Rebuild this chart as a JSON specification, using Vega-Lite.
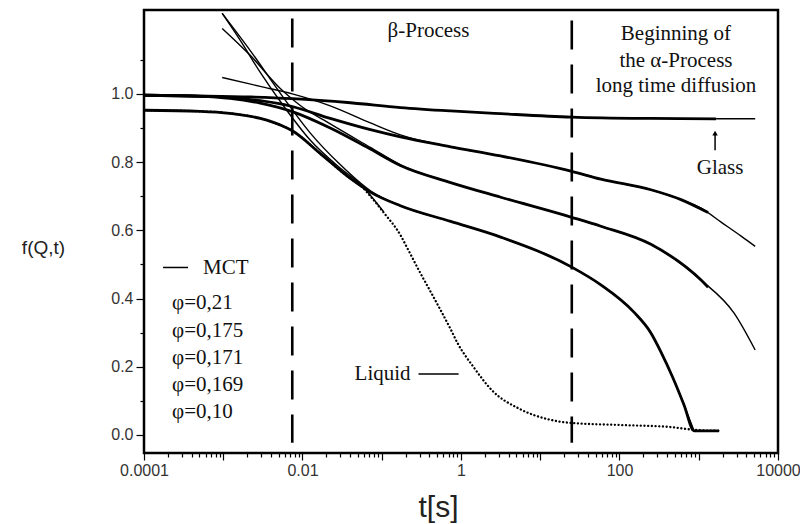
{
  "$schema": "https://vega.github.io/schema/vega-lite/v6.json",
  "width": 634,
  "height": 443,
  "autosize": {"type": "none"},
  "padding": {"left": 144, "top": 10, "right": 22, "bottom": 71},
  "background": "white",
  "config": {"view": {"stroke": "black", "strokeWidth": 2.5}},
  "datasets": {
    "curves": [
      {"series": "glass", "kind": "data", "t": 0.0001, "f": 0.996},
      {"series": "glass", "kind": "data", "t": 0.00051, "f": 0.994},
      {"series": "glass", "kind": "data", "t": 0.00219, "f": 0.991},
      {"series": "glass", "kind": "data", "t": 0.00743, "f": 0.986},
      {"series": "glass", "kind": "data", "t": 0.0402, "f": 0.974},
      {"series": "glass", "kind": "data", "t": 0.172, "f": 0.960},
      {"series": "glass", "kind": "data", "t": 0.74, "f": 0.950},
      {"series": "glass", "kind": "data", "t": 3.17, "f": 0.942},
      {"series": "glass", "kind": "data", "t": 25, "f": 0.932},
      {"series": "glass", "kind": "data", "t": 249, "f": 0.928},
      {"series": "glass", "kind": "data", "t": 1656, "f": 0.927},
      {"series": "glass", "kind": "fit", "t": 1656, "f": 0.927},
      {"series": "glass", "kind": "fit", "t": 5150, "f": 0.927},

      {"series": "B", "kind": "data", "t": 0.0001, "f": 0.996},
      {"series": "B", "kind": "data", "t": 0.00051, "f": 0.993},
      {"series": "B", "kind": "data", "t": 0.00122, "f": 0.989},
      {"series": "B", "kind": "data", "t": 0.00293, "f": 0.980},
      {"series": "B", "kind": "data", "t": 0.00743, "f": 0.963},
      {"series": "B", "kind": "data", "t": 0.0224, "f": 0.928},
      {"series": "B", "kind": "data", "t": 0.0719, "f": 0.895},
      {"series": "B", "kind": "data", "t": 0.172, "f": 0.874},
      {"series": "B", "kind": "data", "t": 0.74, "f": 0.845},
      {"series": "B", "kind": "data", "t": 3.17, "f": 0.818},
      {"series": "B", "kind": "data", "t": 25, "f": 0.773},
      {"series": "B", "kind": "data", "t": 58.2, "f": 0.750},
      {"series": "B", "kind": "data", "t": 249, "f": 0.719},
      {"series": "B", "kind": "data", "t": 597, "f": 0.690},
      {"series": "B", "kind": "data", "t": 1312, "f": 0.652},
      {"series": "B", "kind": "fit", "t": 0.00097, "f": 1.048},
      {"series": "B", "kind": "fit", "t": 0.00293, "f": 1.022},
      {"series": "B", "kind": "fit", "t": 0.00743, "f": 1.000},
      {"series": "B", "kind": "fit", "t": 0.0224, "f": 0.965},
      {"series": "B", "kind": "fit", "t": 0.0719, "f": 0.915},
      {"series": "B", "kind": "fit", "t": 0.172, "f": 0.880},
      {"series": "B", "kind": "fit", "t": 0.74, "f": 0.845},
      {"series": "B", "kind": "fit", "t": 3.17, "f": 0.818},
      {"series": "B", "kind": "fit", "t": 25, "f": 0.773},
      {"series": "B", "kind": "fit", "t": 58.2, "f": 0.750},
      {"series": "B", "kind": "fit", "t": 249, "f": 0.719},
      {"series": "B", "kind": "fit", "t": 597, "f": 0.690},
      {"series": "B", "kind": "fit", "t": 1069, "f": 0.665},
      {"series": "B", "kind": "fit", "t": 1914, "f": 0.624},
      {"series": "B", "kind": "fit", "t": 3427, "f": 0.583},
      {"series": "B", "kind": "fit", "t": 5150, "f": 0.553},

      {"series": "C", "kind": "data", "t": 0.0001, "f": 0.996},
      {"series": "C", "kind": "data", "t": 0.00051, "f": 0.993},
      {"series": "C", "kind": "data", "t": 0.00122, "f": 0.987},
      {"series": "C", "kind": "data", "t": 0.00293, "f": 0.973},
      {"series": "C", "kind": "data", "t": 0.00743, "f": 0.948},
      {"series": "C", "kind": "data", "t": 0.0224, "f": 0.900},
      {"series": "C", "kind": "data", "t": 0.0719, "f": 0.838},
      {"series": "C", "kind": "data", "t": 0.172, "f": 0.790},
      {"series": "C", "kind": "data", "t": 0.74, "f": 0.740},
      {"series": "C", "kind": "data", "t": 3.17, "f": 0.697},
      {"series": "C", "kind": "data", "t": 25, "f": 0.638},
      {"series": "C", "kind": "data", "t": 58.2, "f": 0.612},
      {"series": "C", "kind": "data", "t": 249, "f": 0.559},
      {"series": "C", "kind": "data", "t": 1069, "f": 0.454},
      {"series": "C", "kind": "data", "t": 1312, "f": 0.433},
      {"series": "C", "kind": "fit", "t": 0.00097, "f": 1.192},
      {"series": "C", "kind": "fit", "t": 0.00219, "f": 1.113},
      {"series": "C", "kind": "fit", "t": 0.00524, "f": 1.016},
      {"series": "C", "kind": "fit", "t": 0.00937, "f": 0.966},
      {"series": "C", "kind": "fit", "t": 0.0224, "f": 0.912},
      {"series": "C", "kind": "fit", "t": 0.0719, "f": 0.843},
      {"series": "C", "kind": "fit", "t": 0.172, "f": 0.792},
      {"series": "C", "kind": "fit", "t": 0.74, "f": 0.740},
      {"series": "C", "kind": "fit", "t": 3.17, "f": 0.697},
      {"series": "C", "kind": "fit", "t": 25, "f": 0.638},
      {"series": "C", "kind": "fit", "t": 58.2, "f": 0.612},
      {"series": "C", "kind": "fit", "t": 249, "f": 0.559},
      {"series": "C", "kind": "fit", "t": 1069, "f": 0.454},
      {"series": "C", "kind": "fit", "t": 2793, "f": 0.357},
      {"series": "C", "kind": "fit", "t": 5150, "f": 0.249},

      {"series": "D", "kind": "data", "t": 0.0001, "f": 0.952},
      {"series": "D", "kind": "data", "t": 0.00051, "f": 0.949},
      {"series": "D", "kind": "data", "t": 0.00122, "f": 0.943},
      {"series": "D", "kind": "data", "t": 0.00293, "f": 0.928},
      {"series": "D", "kind": "data", "t": 0.00571, "f": 0.905},
      {"series": "D", "kind": "data", "t": 0.00743, "f": 0.892},
      {"series": "D", "kind": "data", "t": 0.0168, "f": 0.825},
      {"series": "D", "kind": "data", "t": 0.0402, "f": 0.752},
      {"series": "D", "kind": "data", "t": 0.0719, "f": 0.712},
      {"series": "D", "kind": "data", "t": 0.172, "f": 0.672},
      {"series": "D", "kind": "data", "t": 0.74, "f": 0.626},
      {"series": "D", "kind": "data", "t": 3.17, "f": 0.580},
      {"series": "D", "kind": "data", "t": 25, "f": 0.492},
      {"series": "D", "kind": "data", "t": 58.2, "f": 0.440},
      {"series": "D", "kind": "data", "t": 152, "f": 0.360},
      {"series": "D", "kind": "data", "t": 249, "f": 0.299},
      {"series": "D", "kind": "data", "t": 334, "f": 0.243},
      {"series": "D", "kind": "data", "t": 473, "f": 0.167},
      {"series": "D", "kind": "data", "t": 652, "f": 0.088},
      {"series": "D", "kind": "data", "t": 873, "f": 0.012},
      {"series": "D", "kind": "data", "t": 1312, "f": 0.012},
      {"series": "D", "kind": "data", "t": 1807, "f": 0.012},
      {"series": "D", "kind": "fit", "t": 0.00097, "f": 1.236},
      {"series": "D", "kind": "fit", "t": 0.00219, "f": 1.127},
      {"series": "D", "kind": "fit", "t": 0.00571, "f": 0.990},
      {"series": "D", "kind": "fit", "t": 0.01256, "f": 0.885},
      {"series": "D", "kind": "fit", "t": 0.0301, "f": 0.792},
      {"series": "D", "kind": "fit", "t": 0.0719, "f": 0.716},
      {"series": "D", "kind": "fit", "t": 0.172, "f": 0.672},
      {"series": "D", "kind": "fit", "t": 0.74, "f": 0.626},
      {"series": "D", "kind": "fit", "t": 3.17, "f": 0.580},
      {"series": "D", "kind": "fit", "t": 25, "f": 0.492},
      {"series": "D", "kind": "fit", "t": 58.2, "f": 0.440},
      {"series": "D", "kind": "fit", "t": 152, "f": 0.360},
      {"series": "D", "kind": "fit", "t": 249, "f": 0.299},
      {"series": "D", "kind": "fit", "t": 334, "f": 0.243},
      {"series": "D", "kind": "fit", "t": 473, "f": 0.167},
      {"series": "D", "kind": "fit", "t": 652, "f": 0.088},
      {"series": "D", "kind": "fit", "t": 873, "f": 0.012},

      {"series": "L", "kind": "fit", "t": 0.00097, "f": 1.236},
      {"series": "L", "kind": "fit", "t": 0.00164, "f": 1.157},
      {"series": "L", "kind": "fit", "t": 0.00293, "f": 1.063},
      {"series": "L", "kind": "fit", "t": 0.00571, "f": 0.966},
      {"series": "L", "kind": "fit", "t": 0.01256, "f": 0.864},
      {"series": "L", "kind": "fit", "t": 0.0301, "f": 0.782},
      {"series": "L", "kind": "fit", "t": 0.0538, "f": 0.735},
      {"series": "L", "kind": "fit", "t": 0.105, "f": 0.655},

      {"series": "L", "kind": "dots", "t": 0.0001, "f": 0.952},
      {"series": "L", "kind": "dots", "t": 0.00051, "f": 0.949},
      {"series": "L", "kind": "dots", "t": 0.00122, "f": 0.943},
      {"series": "L", "kind": "dots", "t": 0.00293, "f": 0.928},
      {"series": "L", "kind": "dots", "t": 0.00571, "f": 0.905},
      {"series": "L", "kind": "dots", "t": 0.00743, "f": 0.892},
      {"series": "L", "kind": "dots", "t": 0.0168, "f": 0.825},
      {"series": "L", "kind": "dots", "t": 0.0402, "f": 0.752},
      {"series": "L", "kind": "dots", "t": 0.0538, "f": 0.732},
      {"series": "L", "kind": "dots", "t": 0.0719, "f": 0.700},
      {"series": "L", "kind": "dots", "t": 0.105, "f": 0.653},
      {"series": "L", "kind": "dots", "t": 0.172, "f": 0.586},
      {"series": "L", "kind": "dots", "t": 0.211, "f": 0.547},
      {"series": "L", "kind": "dots", "t": 0.308, "f": 0.474},
      {"series": "L", "kind": "dots", "t": 0.451, "f": 0.404},
      {"series": "L", "kind": "dots", "t": 0.74, "f": 0.310},
      {"series": "L", "kind": "dots", "t": 0.906, "f": 0.269},
      {"series": "L", "kind": "dots", "t": 1.44, "f": 0.199},
      {"series": "L", "kind": "dots", "t": 2.58, "f": 0.126},
      {"series": "L", "kind": "dots", "t": 5.2, "f": 0.079},
      {"series": "L", "kind": "dots", "t": 13.6, "f": 0.044},
      {"series": "L", "kind": "dots", "t": 25, "f": 0.035},
      {"series": "L", "kind": "dots", "t": 104, "f": 0.029},
      {"series": "L", "kind": "dots", "t": 447, "f": 0.023},
      {"series": "L", "kind": "dots", "t": 873, "f": 0.015},
      {"series": "L", "kind": "dots", "t": 1807, "f": 0.012}
    ],
    "vlines": [
      {"t": 0.00743, "f": 1.221, "f2": -0.023},
      {"t": 25, "f": 1.215, "f2": -0.023}
    ],
    "segs": [
      {"t": 0.000174, "t2": 0.00036, "f": 0.491},
      {"t": 0.291, "t2": 0.933, "f": 0.179}
    ],
    "arrow": [
      {"t": 1607, "f": 0.835, "f2": 0.882}
    ],
    "arrowhead": [
      {"t": 1607, "f": 0.885}
    ],
    "labelsLeft": [
      {"t": 0.000557, "f": 0.490, "text": "MCT"},
      {"t": 0.000226, "f": 0.388, "text": "φ=0,21"},
      {"t": 0.000226, "f": 0.306, "text": "φ=0,175"},
      {"t": 0.000226, "f": 0.227, "text": "φ=0,171"},
      {"t": 0.000226, "f": 0.146, "text": "φ=0,169"},
      {"t": 0.000226, "f": 0.067, "text": "φ=0,10"}
    ],
    "labelsCenter": [
      {"t": 0.389, "f": 1.183, "text": "β-Process"},
      {"t": 516, "f": 1.177, "text": "Beginning of"},
      {"t": 516, "f": 1.095, "text": "the α-Process"},
      {"t": 516, "f": 1.022, "text": "long time diffusion"},
      {"t": 1858, "f": 0.782, "text": "Glass"}
    ],
    "labelsRight": [
      {"t": 0.231, "f": 0.179, "text": "Liquid"}
    ]
  },
  "encoding": {
    "x": {
      "field": "t",
      "type": "quantitative",
      "scale": {"type": "log", "domain": [0.0001, 10000], "nice": false},
      "axis": {
        "title": "t[s]",
        "values": [0.0001,0.0002,0.0003,0.0004,0.0005,0.0006,0.0007,0.0008,0.0009,0.001,0.002,0.003,0.004,0.005,0.006,0.007,0.008,0.009,0.01,0.02,0.03,0.04,0.05,0.06,0.07,0.08,0.09,0.1,0.2,0.3,0.4,0.5,0.6,0.7,0.8,0.9,1,2,3,4,5,6,7,8,9,10,20,30,40,50,60,70,80,90,100,200,300,400,500,600,700,800,900,1000,2000,3000,4000,5000,6000,7000,8000,9000,10000],
        "labelExpr": "datum.value == 0.0001 ? '0.0001' : datum.value == 0.01 ? '0.01' : datum.value == 1 ? '1' : datum.value == 100 ? '100' : datum.value == 10000 ? '10000' : ''",
        "domain": false,
        "grid": false,
        "tickColor": "black",
        "tickWidth": 1.2,
        "tickSize": {"condition": {"test": "indexof([0.0001,0.001,0.01,0.1,1,10,100,1000,10000], datum.value) >= 0", "value": 7}, "value": 4},
        "labelFont": "Liberation Sans",
        "labelFontSize": 16,
        "labelColor": "#333",
        "labelPadding": 2,
        "labelFlush": false,
        "labelOverlap": false,
        "labelBound": false,
        "titleFont": "Liberation Sans",
        "titleFontSize": 30,
        "titleFontWeight": "normal",
        "titleColor": "#222",
        "titleX": 294,
        "titleY": 54,
        "titleAlign": "center",
        "titleBaseline": "middle"
      }
    },
    "y": {
      "field": "f",
      "type": "quantitative",
      "scale": {"domain": [-0.053, 1.246], "nice": false, "zero": false},
      "axis": {
        "title": "f(Q,t)",
        "values": [0, 0.1, 0.2, 0.3, 0.4, 0.5, 0.6, 0.7, 0.8, 0.9, 1.0, 1.1],
        "labelExpr": "round(datum.value * 10) % 2 == 0 ? format(datum.value, '.1f') : ''",
        "domain": false,
        "grid": false,
        "tickColor": "black",
        "tickWidth": 1.2,
        "tickSize": {"condition": {"test": "round(datum.value * 10) % 2 == 0", "value": 8}, "value": 4},
        "labelFont": "Liberation Sans",
        "labelFontSize": 16,
        "labelColor": "#333",
        "labelPadding": 3,
        "labelOverlap": false,
        "labelFlush": false,
        "titleFont": "Liberation Sans",
        "titleFontSize": 19,
        "titleFontWeight": "normal",
        "titleColor": "#222",
        "titleAngle": 0,
        "titleX": -101,
        "titleY": 237,
        "titleAlign": "center",
        "titleBaseline": "middle"
      }
    }
  },
  "layer": [
    {
      "data": {"name": "curves"},
      "transform": [{"filter": "datum.kind == 'fit'"}],
      "mark": {"type": "line", "color": "black", "strokeWidth": 1.4, "interpolate": "monotone"},
      "encoding": {"detail": {"field": "series"}}
    },
    {
      "data": {"name": "curves"},
      "transform": [{"filter": "datum.kind == 'dots'"}],
      "mark": {"type": "line", "color": "black", "strokeWidth": 2.3, "strokeDash": [0.1, 3.6], "strokeCap": "round", "interpolate": "monotone"},
      "encoding": {"detail": {"field": "series"}}
    },
    {
      "data": {"name": "curves"},
      "transform": [{"filter": "datum.kind == 'data'"}],
      "mark": {"type": "line", "color": "black", "strokeWidth": 2.8, "interpolate": "monotone"},
      "encoding": {"detail": {"field": "series"}}
    },
    {
      "data": {"name": "vlines"},
      "mark": {"type": "rule", "color": "black", "strokeWidth": 2.6, "strokeDash": [29, 15]},
      "encoding": {"y2": {"field": "f2"}}
    },
    {
      "data": {"name": "segs"},
      "mark": {"type": "rule", "color": "black", "strokeWidth": 1.5},
      "encoding": {"x2": {"field": "t2"}}
    },
    {
      "data": {"name": "arrow"},
      "mark": {"type": "rule", "color": "black", "strokeWidth": 1.5},
      "encoding": {"y2": {"field": "f2"}}
    },
    {
      "data": {"name": "arrowhead"},
      "mark": {"type": "point", "shape": "triangle-up", "filled": true, "color": "black", "size": 30, "opacity": 1}
    },
    {
      "data": {"name": "labelsLeft"},
      "mark": {"type": "text", "align": "left", "baseline": "middle", "font": "Liberation Serif", "fontSize": 21, "color": "#111"},
      "encoding": {"text": {"field": "text"}}
    },
    {
      "data": {"name": "labelsCenter"},
      "mark": {"type": "text", "align": "center", "baseline": "middle", "font": "Liberation Serif", "fontSize": 21, "color": "#111"},
      "encoding": {"text": {"field": "text"}}
    },
    {
      "data": {"name": "labelsRight"},
      "mark": {"type": "text", "align": "right", "baseline": "middle", "font": "Liberation Serif", "fontSize": 21, "color": "#111"},
      "encoding": {"text": {"field": "text"}}
    }
  ]
}
